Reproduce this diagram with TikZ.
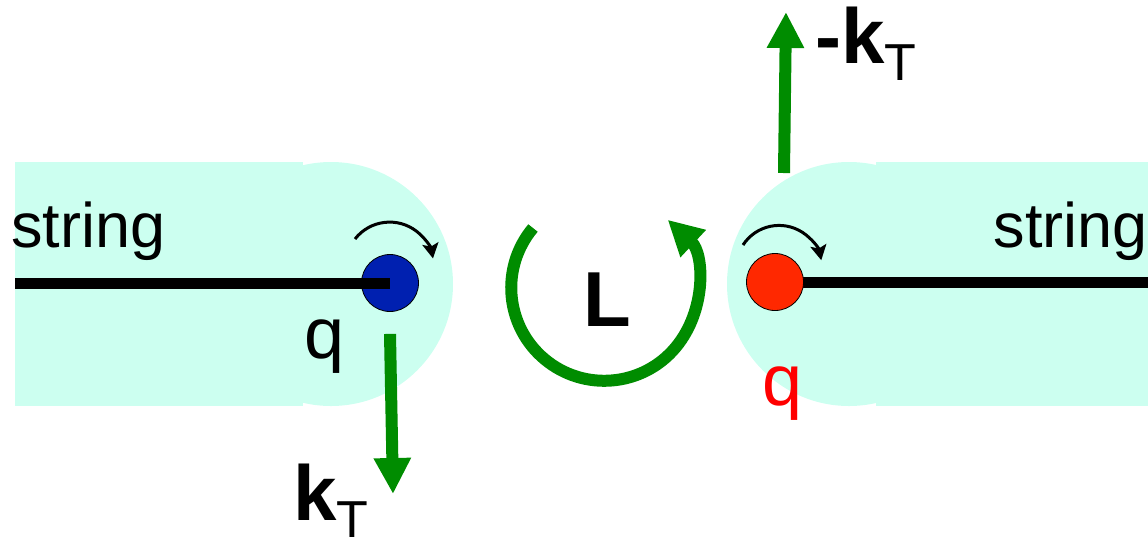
\documentclass[tikz,border=0pt]{standalone}
\usepackage{fontspec}
\setmainfont{Liberation Sans}
\usetikzlibrary{arrows.meta,calc,positioning}
\definecolor{sheath}{RGB}{204,255,240}
\definecolor{forcegreen}{RGB}{0,140,0}
\definecolor{quarkblue}{RGB}{0,32,176}
\definecolor{quarkred}{RGB}{255,40,0}
\tikzset{
  ball/.style={circle,draw=black,thin,minimum size=28.5pt,inner sep=0pt},
  force/.style={forcegreen,line width=6pt,-{Triangle[width=17.5pt,length=18pt]}},
  spin/.style={black,line width=1.5pt,-{Stealth[width=8pt,length=7.5pt,inset=1.5pt]}},
  stringline/.style={black,line width=5.5pt},
  lbl/.style={inner sep=0pt,font=\fontsize{31.5}{31.5}\selectfont},
  qlbl/.style={inner sep=0pt,font=\fontsize{36}{36}\selectfont},
  kbl/.style={inner sep=0pt,font=\bfseries\fontsize{39}{39}\selectfont},
}
\newcommand{\subT}{\raisebox{-8.5pt}{\mdseries\fontsize{26}{26}\selectfont T}}

\begin{document}
\begin{tikzpicture}[x=0.5pt,y=-0.5pt]
  \useasboundingbox (0,0) rectangle (1148,538);
  % flux tube ends
  \fill[sheath] (15,162) rectangle (303,406);
  \fill[sheath] (331,284) circle[radius=122];
  \fill[sheath] (876,162) rectangle (1148,406);
  \fill[sheath] (849,284) circle[radius=122];
  % strings and quarks
  \coordinate (lend) at (15,283);
  \coordinate (rend) at (1148,282);
  \coordinate (qr) at (775,282);
  \node[ball,fill=quarkblue] (qblue) at (390,283) {};
  \draw[stringline] (lend) -- (qblue.center);
  \draw[stringline] (qr) -- (rend);
  \node[ball,fill=quarkred] (qred) at (qr) {};
  % labels
  \node[lbl,anchor=base west] (strleft) at (11,247) {string};
  \node[lbl,anchor=base east] (strright) at (1148,247) {string};
  \node[qlbl,anchor=base west] (qleft) at (304,358) {q};
  \node[qlbl,anchor=base west,red] (qright) at (762,405) {q};
  \node[kbl] (Lbl) at (607,300) {L};
  \node[kbl,anchor=base west] (kdownlbl) at (293,520) {k\subT};
  \node[kbl,anchor=base west] (kuplbl) at (815,63) {-k\subT};
  % spins
  \draw[spin] ([shift={(-35,-44)}]qblue.center) arc[start angle=218,end angle=350,radius=44];
  \draw[spin] ([shift={(-32,-37)}]qred.center) arc[start angle=213,end angle=349,radius=43];
  % transverse momenta
  \coordinate (kdown) at (393,494);
  \coordinate (kupbase) at (784,173);
  \coordinate (kuptip) at (786,12);
  \draw[force] ([yshift=-11pt]qblue.south) -- (kdown);
  \draw[force] (kupbase) -- (kuptip);
  % angular momentum
  \draw[force,-{Triangle[width=17.5pt,length=17.5pt]}] ([shift={(-74,-72)}]Lbl.center) arc[start angle=220,end angle=-47,radius=93];
\end{tikzpicture}
\end{document}
